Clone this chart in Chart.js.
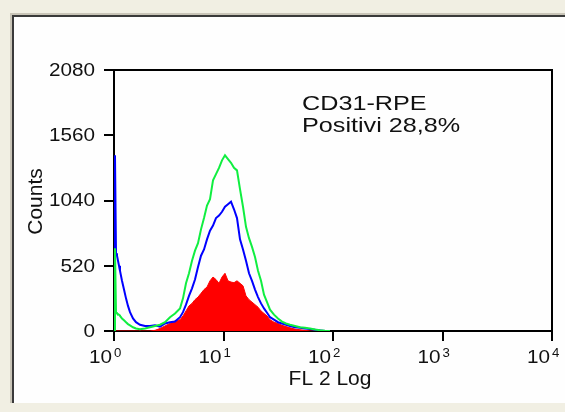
<!DOCTYPE html>
<html>
<head>
<meta charset="utf-8">
<script src="https://cdn.jsdelivr.net/npm/chart.js@4"></script>
<style>
  html, body { margin: 0; padding: 0; background: #f1efe3; }
  body { width: 565px; height: 412px; position: relative; overflow: hidden; }
  #outer { position: absolute; left: 10px; top: 13px; right: -60px; height: 388px;
           border-left: 2px solid #c9c5b8; border-top: 2px solid #c9c5b8; }
  #panel { position: absolute; left: 0; top: 0; right: 0; bottom: 0; background: #fefefe;
           border-left: 2px solid #3a3a3a; border-top: 2px solid #3a3a3a; }
  canvas { position: absolute; left: 0; top: 0; }
</style>
</head>
<body>
<div id="outer"><div id="panel"></div></div>
<canvas id="myChart" width="565" height="412"></canvas>
<script>
// FL2 channel values (log axis)
var channels = [1.00, 1.021, 1.043, 1.065, 1.088, 1.111, 1.134, 1.183, 1.234, 1.287, 1.342, 1.400,
  1.491, 1.588, 1.727, 1.919, 2.132, 2.368, 2.631, 2.923, 3.246, 3.607, 4.006, 4.267, 4.545,
  4.841, 5.157, 5.492, 5.850, 6.231, 6.637, 7.068, 7.530, 8.020, 8.542, 9.097, 9.690, 10.32,
  10.99, 11.71, 12.47, 13.28, 14.15, 15.07, 16.05, 17.10, 18.21, 19.40, 20.66, 22.01, 23.44,
  24.97, 26.59, 28.92, 31.45, 34.21, 37.22, 40.49, 44.98, 49.96, 55.50, 61.66, 68.48, 76.09,
  84.53, 93.89];

// counts per channel
var greenCounts = [0, 660, 150, 140, 135, 130, 120, 100, 85, 70, 55, 45,
  30, 20, 15, 20, 30, 40, 50, 70, 110, 140, 180, 260, 380,
  460, 560, 640, 700, 810, 900, 1000, 1050, 1200, 1250, 1300, 1360, 1400,
  1370, 1340, 1300, 1280, 1130, 990, 830, 740, 670, 590, 480, 400, 290,
  230, 170, 130, 100, 75, 60, 50, 40, 30, 25, 20, 12, 6,
  2, 0];

var blueCounts = [0, 1400, 620, 600, 560, 520, 480, 400, 330, 260, 200, 150,
  100, 70, 50, 40, 40, 45, 35, 60, 70, 75, 110, 150, 210,
  280, 340, 410, 510, 600, 650, 730, 800, 840, 900, 920, 950, 990,
  1010, 1030, 970, 900, 730, 650, 560, 460, 400, 330, 270, 220, 180,
  145, 110, 90, 70, 60, 50, 40, 30, 25, 20, 15, 10, 5,
  0, 0];

var redCounts = [0, 0, 0, 0, 0, 0, 0, 0, 0, 0, 0, 0,
  0, 0, 0, 0, 0, 5, 20, 40, 60, 80, 90, 120, 160,
  200, 220, 250, 270, 300, 330, 350, 400, 430, 410, 380, 430, 460,
  400, 390, 385, 400, 380, 360, 280, 250, 230, 210, 190, 160, 140,
  120, 90, 70, 60, 45, 35, 25, 15, 10, 5, 0, 0, 0,
  0, 0];

var xTicks = [1, 10, 100, 1000, 10000];
var yTicks = [0, 520, 1040, 1560, 2080];
var xExponents = ['0', '1', '2', '3', '4'];
var xTitle = 'FL 2 Log';
var yTitle = 'Counts';
var noteLines = ['CD31-RPE', 'Positivi 28,8%'];

function points(counts) {
  return channels.map(function(c, i) { return { x: c, y: counts[i] }; });
}

// draw text stretched horizontally
function stretchText(ctx, text, x, y, sx) {
  ctx.save();
  ctx.translate(x, y);
  ctx.scale(sx, 1);
  ctx.fillText(text, 0, 0);
  ctx.restore();
}

var textPlugin = {
  id: 'texts',
  afterDraw: function(chart) {
    var ctx = chart.ctx;
    var a = chart.chartArea;
    var xs = chart.scales.x, ys = chart.scales.y;

    // frame top and right
    ctx.save();
    ctx.strokeStyle = '#000';
    ctx.lineWidth = 2;
    ctx.beginPath();
    ctx.moveTo(a.left, a.top);
    ctx.lineTo(a.right, a.top);
    ctx.lineTo(a.right, a.bottom);
    ctx.stroke();
    ctx.restore();

    ctx.save();
    ctx.fillStyle = '#111';
    var fam = '"Liberation Sans", Arial, sans-serif';

    // y tick labels
    ctx.font = '18px ' + fam;
    ctx.textBaseline = 'middle';
    yTicks.forEach(function(v) {
      var s = String(v);
      var w = ctx.measureText(s).width * 1.15;
      stretchText(ctx, s, a.left - 19 - w, ys.getPixelForValue(v) + 1, 1.15);
    });

    // x tick labels with superscript
    ctx.textBaseline = 'alphabetic';
    xTicks.forEach(function(v, i) {
      var px = xs.getPixelForValue(v);
      ctx.font = '18px ' + fam;
      var w = ctx.measureText('10').width * 1.15;
      stretchText(ctx, '10', px - 2 - w, a.bottom + 32, 1.15);
      ctx.font = '12px ' + fam;
      stretchText(ctx, xExponents[i], px, a.bottom + 26, 1.1);
    });

    // axis titles
    ctx.font = '21px ' + fam;
    ctx.textAlign = 'center';
    ctx.fillText(xTitle, (a.left + a.right) / 2 - 3, a.bottom + 54);
    ctx.save();
    ctx.translate(42, (a.top + a.bottom) / 2 + 1);
    ctx.rotate(-Math.PI / 2);
    ctx.fillText(yTitle, 0, 0);
    ctx.restore();

    // annotation
    ctx.textAlign = 'left';
    stretchText(ctx, noteLines[0], 302, 110, 1.2);
    stretchText(ctx, noteLines[1], 302, 132, 1.2);
    ctx.restore();
  }
};

var axisStyle = {
  grid: { drawOnChartArea: false, drawTicks: true, tickLength: 10, color: '#000', lineWidth: 2 },
  border: { display: true, color: '#000', width: 2 },
  ticks: { display: false }
};

var ctx = document.getElementById('myChart').getContext('2d');
var myChart = new Chart(ctx, {
  type: 'line',
  data: {
    datasets: [{
      label: 'green',
      data: points(greenCounts),
      borderColor: '#10ee40',
      borderWidth: 2,
      pointRadius: 0,
      fill: false
    }, {
      label: 'blue',
      data: points(blueCounts),
      borderColor: '#0000ff',
      borderWidth: 2,
      pointRadius: 0,
      fill: false
    }, {
      label: 'red',
      data: points(redCounts),
      borderColor: '#ff0000',
      backgroundColor: '#ff0000',
      borderWidth: 1,
      pointRadius: 0,
      fill: 'origin'
    }]
  },
  options: {
    responsive: false,
    animation: false,
    devicePixelRatio: 1,
    layout: { padding: { left: 104, top: 70, right: 13, bottom: 71 } },
    plugins: { legend: { display: false }, tooltip: { enabled: false } },
    scales: {
      x: Object.assign({
        type: 'logarithmic', min: 1, max: 10000,
        afterBuildTicks: function(scale) {
          scale.ticks = xTicks.map(function(v) { return { value: v }; });
        }
      }, axisStyle),
      y: Object.assign({
        type: 'linear', min: 0, max: 2080,
        afterBuildTicks: function(scale) {
          scale.ticks = yTicks.map(function(v) { return { value: v }; });
        }
      }, axisStyle)
    }
  },
  plugins: [textPlugin]
});
</script>
</body>
</html>
